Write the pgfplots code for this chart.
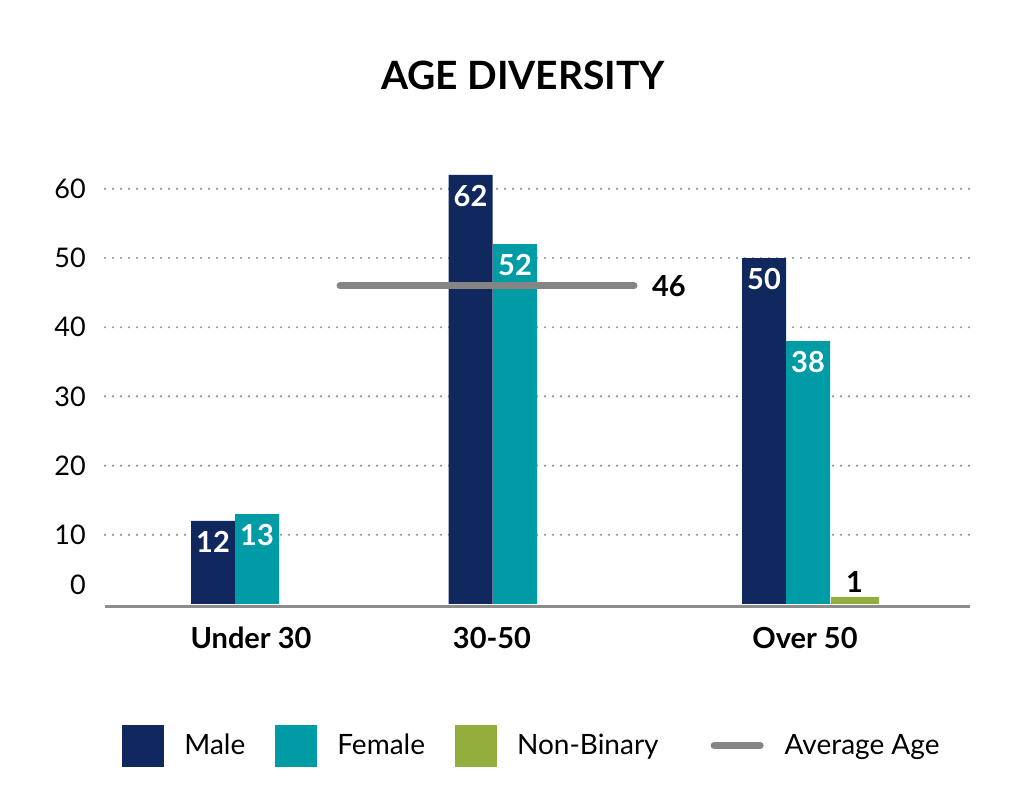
\documentclass[border=0pt]{standalone}
\usepackage{fontspec}
\setmainfont{Lato}
\usepackage{pgfplots}
\pgfplotsset{compat=1.18}

\definecolor{male}{HTML}{10285E}
\definecolor{female}{HTML}{009CA6}
\definecolor{nonbin}{HTML}{92AE3C}
\definecolor{avgline}{HTML}{858585}
\definecolor{axgray}{HTML}{8C8C8C}
\definecolor{gridgray}{HTML}{8F8F8F}

\pgfplotsset{
  squarelegend/.style={legend image code/.code={\fill[##1] (0pt,-10.5pt) rectangle (21pt,10.5pt);}},
  linelegend/.style={legend image code/.code={\path[draw=none] (0pt,0pt) -- (38pt,0pt); \draw[##1] (12.75pt,0pt) -- (35.75pt,0pt);}},
  barlabel/.style={nodes near coords, every node near coord/.append style={anchor=north, inner sep=0pt, yshift=-5pt, text=white, font=\bfseries\fontsize{14.5}{16}\selectfont}},
}

\begin{document}
\begin{tikzpicture}
  \useasboundingbox (0pt,0pt) rectangle (515.5pt,403pt);
  \node[font=\bfseries\fontsize{19.5}{22}\selectfont] at (261.5pt,365.5pt) {AGE DIVERSITY};
  \begin{axis}[
      at={(52.5pt,101pt)}, anchor=south west,
      scale only axis,
      width=432.5pt, height=214.5pt,
      xmin=105, xmax=970,
      ymin=0, ymax=62,
      ybar, bar shift=0pt,
      axis x line=bottom, axis y line=left,
      x axis line style={-, draw=axgray, line width=1.5pt, yshift=-1.2pt},
      y axis line style={draw=none},
      tick style={draw=none},
      xtick={251,492,805},
      xticklabels={Under 30, 30-50, Over 50},
      xticklabel style={font=\bfseries\fontsize{14.5}{16}\selectfont, yshift=-6pt},
      ytick={10,20,...,60},
      yticklabel style={font=\fontsize{13.5}{15}\selectfont, xshift=-4pt},
      extra y ticks={0},
      extra y tick labels={0},
      extra y tick style={grid=none, yticklabel style={yshift=9.5pt}},
      ymajorgrids,
      major grid style={draw=gridgray, line width=1.2pt, line cap=round, dash pattern=on 0pt off 4pt},
      /pgf/number format/assume math mode=true,
      legend columns=4,
      legend cell align=left,
      squarelegend,
      legend style={at={(0.0197,-0.33)}, anchor=west, draw=none, inner sep=0pt,
        font=\fontsize{14}{16}\selectfont,
        nodes={inner xsep=10pt},
        /tikz/every even column/.append style={column sep=5pt}},
      clip=false,
    ]
    \addplot[fill=male, draw=none, bar width=44, barlabel]
      coordinates {(213,12) (470.5,62) (764,50)};
    \addlegendentry{Male}
    \addplot[fill=female, draw=none, bar width=44, barlabel]
      coordinates {(257,13) (515,52) (808,38)};
    \addlegendentry{Female}
    \addplot[fill=nonbin, draw=none, bar width=48,
      nodes near coords, every node near coord/.append style={anchor=south, inner sep=0pt, yshift=2pt, text=black, font=\bfseries\fontsize{14.5}{16}\selectfont}]
      coordinates {(854.5,1)};
    \addlegendentry{Non-Binary}
    \addplot[sharp plot, draw=avgline, line width=3.5pt, line cap=round, linelegend]
      coordinates {(340,46) (634,46)}
      node[pos=1, anchor=west, xshift=4pt, font=\bfseries\fontsize{14.5}{16}\selectfont] {46};
    \addlegendentry{Average Age}
  \end{axis}
\end{tikzpicture}
\end{document}
